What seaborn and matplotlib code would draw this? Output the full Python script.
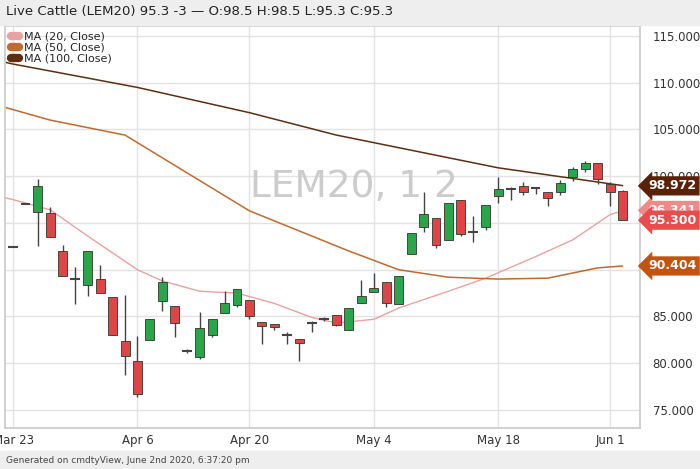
import matplotlib
matplotlib.use("Agg")
import matplotlib.pyplot as plt
import seaborn as sns
import pandas as pd
import numpy as np

# OHLC per trading day (index 0 = Mar 23)
opens  = [92.4,97.0,96.2,96.1,92.0,89.0,88.4,89.0,87.1,82.4,80.2,82.5,86.7,86.1,81.3,80.7,83.0,85.4,86.2,86.8,84.4,84.2,83.0,82.6,84.3,84.7,85.2,83.6,86.4,87.6,88.7,86.3,91.7,94.6,95.5,93.2,97.5,94.0,94.6,97.9,98.6,99.0,98.7,98.3,98.3,99.9,100.8,101.4,99.2,98.4]
closes = [92.4,97.0,99.0,93.5,89.3,89.0,92.0,87.5,83.0,80.8,76.7,84.7,88.7,84.3,81.3,83.8,84.7,86.4,87.9,85.0,84.0,83.9,83.0,82.2,84.3,84.7,84.1,85.9,87.2,88.0,86.4,89.3,93.9,96.0,92.6,97.1,93.8,94.0,96.9,98.6,98.6,98.3,98.7,97.7,99.3,100.8,101.4,99.7,98.3,95.3]
highs  = [92.4,97.0,99.7,96.7,92.6,90.3,92.0,90.5,87.1,87.3,82.9,84.7,89.2,86.1,81.5,85.5,84.7,87.7,87.9,86.8,84.4,84.2,83.3,82.6,84.5,84.9,85.2,85.9,88.9,89.6,88.7,89.3,93.9,98.3,95.5,97.1,97.5,95.7,96.9,99.9,98.9,99.4,98.9,98.3,99.6,101.0,101.6,101.4,99.4,98.5]
lows   = [92.4,97.0,92.5,93.5,89.3,86.3,87.2,87.5,83.0,78.7,76.4,82.5,85.6,82.8,81.1,80.5,82.8,85.4,86.0,84.7,82.1,83.6,82.1,80.2,83.3,84.5,84.0,83.6,86.4,87.6,86.0,86.3,91.7,94.0,92.3,93.2,93.6,93.0,94.2,97.1,97.5,98.0,98.1,96.8,98.0,99.5,100.5,99.2,96.8,95.3]

tick_idx = [0, 10, 19, 29, 39, 48]
tick_labels = ["Mar 23", "Apr 6", "Apr 20", "May 4", "May 18", "Jun 1"]

ma_x   = [-1, 0, 3, 6, 10, 12, 15, 18, 21, 24, 26, 29, 31, 35, 38, 42, 45, 48, 49]
ma20   = [97.8,97.5,96.4,93.6,90.0,88.8,87.7,87.5,86.4,84.9,84.3,84.7,85.9,87.7,89.1,91.4,93.2,95.9,96.3]
ma50_x = [-1, 3, 9, 19, 27, 31, 35, 39, 43, 47, 49]
ma50   = [107.5,106.0,104.4,96.3,92.0,90.0,89.2,89.0,89.1,90.2,90.4]
ma100_x= [-1, 0, 10, 19, 26, 39, 49]
ma100  = [112.3,112.0,109.5,106.8,104.4,100.9,99.0]

sns.set_theme(style="white")
plt.rcParams['font.family'] = ['DejaVu Sans']
fig = plt.figure(figsize=(7, 4.69), dpi=100)
fig.patch.set_facecolor("white")
ax = fig.add_axes([5/700, 1-428/469, 635/700, 402/469])
ax.set_xlim(-0.65, 50.4)
ax.set_ylim(73.07, 116.07)

green, red = "#2aa54a", "#e04545"
for i in range(len(opens)):
    o, c, h, l = opens[i], closes[i], highs[i], lows[i]
    col = green if c > o else red
    ax.vlines(i, l, h, color="#444444", lw=1, zorder=3)
    if abs(c - o) < 0.15:
        ax.hlines(c, i-0.4, i+0.4, color="#444444", lw=1.5, zorder=4)
    else:
        ax.bar(i, abs(c-o), bottom=min(o, c), width=0.72, color=col,
               edgecolor="#333333", lw=0.6, zorder=4)

sns.lineplot(x=ma_x, y=ma20, ax=ax, color="#e9a2a2", lw=1, label="MA (20, Close)", zorder=2)
sns.lineplot(x=ma50_x, y=ma50, ax=ax, color="#c06a30", lw=1.1, label="MA (50, Close)", zorder=2)
sns.lineplot(x=ma100_x, y=ma100, ax=ax, color="#5c2e14", lw=1.1, label="MA (100, Close)", zorder=2)

ax.set_xticks(tick_idx)
ax.set_xticklabels(tick_labels, fontsize=8.5, color="#333333")
yt = [75, 80, 85, 90, 95, 100, 105, 110, 115]
ax.set_yticks(yt)
ax.yaxis.tick_right()
ax.set_yticklabels([f"{v:.3f}" for v in yt], fontsize=8.5, color="#333333")
ax.tick_params(axis="y", pad=9, length=0)
ax.tick_params(axis="x", length=0, pad=4)
ax.grid(True, color="#e2e2e2", lw=1)
for s in ax.spines.values():
    s.set_color("#cccccc")

leg = ax.legend(loc="upper left", fontsize=8, frameon=False, handlelength=0.8,
                borderaxespad=0.1, labelspacing=0.1, handletextpad=0.4)
for h in leg.legend_handles:
    h.set_linewidth(6)

ax.text(0.55, 0.6, "LEM20, 1 2", transform=ax.transAxes, fontsize=27,
        color="#cccccc", ha="center", va="center", zorder=1)

for val, col in [(96.341, "#f08a8a"), (95.300, "#e84c4c"), (98.972, "#5a2106"), (90.404, "#c2540f")]:
    ax.annotate(f"{val:.3f}", xy=(1.0, val), xycoords=("axes fraction", "data"),
                xytext=(6, 0), textcoords="offset points", ha="left", va="center",
                fontsize=9, fontweight="bold", color="white", zorder=10,
                bbox=dict(boxstyle="larrow,pad=0.25", fc=col, ec="none"))

fig.patches.append(plt.Rectangle((0, 1-25/469), 1, 25/469, transform=fig.transFigure,
                                 color="#eeeeee", zorder=0))
fig.text(6/700, 1-12/469, "Live Cattle (LEM20) 95.3 -3 — O:98.5 H:98.5 L:95.3 C:95.3",
         fontsize=9.5, color="#222222", va="center")
fig.patches.append(plt.Rectangle((0, 0), 1, 18/469, transform=fig.transFigure,
                                 color="#eeeeee", zorder=0))
fig.text(6/700, 9/469, "Generated on cmdtyView, June 2nd 2020, 6:37:20 pm",
         fontsize=6.5, color="#444444", va="center")

fig.savefig("out.png", dpi=100)
